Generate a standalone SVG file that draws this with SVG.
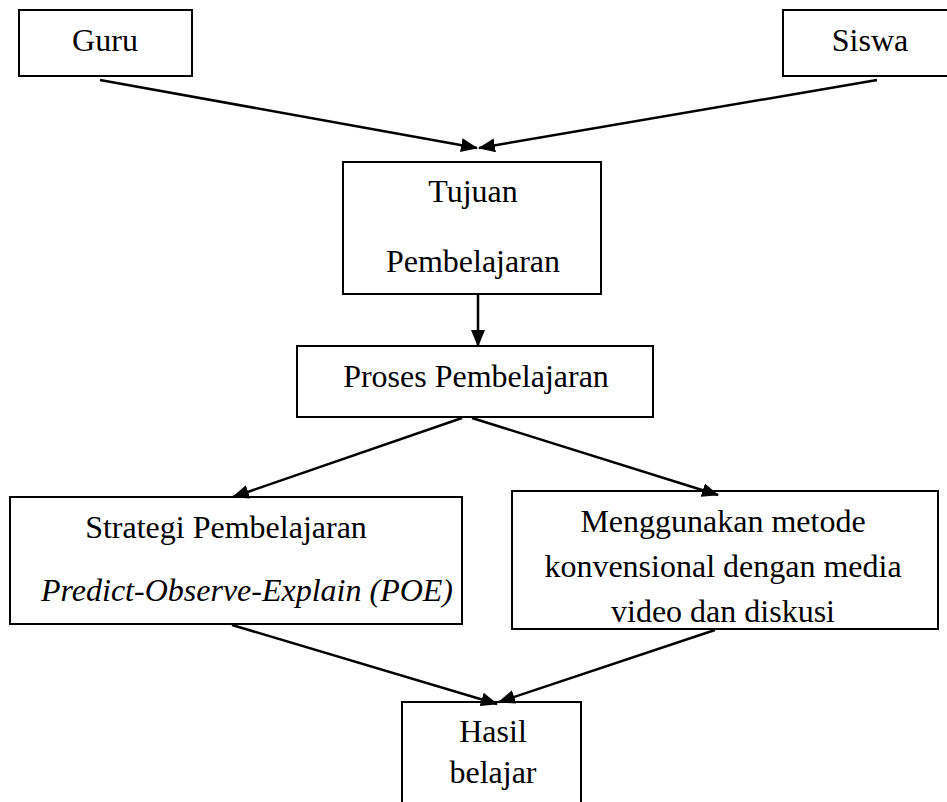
<svg xmlns="http://www.w3.org/2000/svg" width="947" height="802" viewBox="0 0 947 802">
<style>
.box{fill:#fff;stroke:#000;stroke-width:2}
.t{font-family:"Liberation Serif","Times New Roman",serif;font-size:32px;fill:#000;text-anchor:middle}
.it{font-style:italic}
.c{stroke:#000;stroke-width:2.5;fill:none}
</style>
<defs>
<marker id="ah" markerUnits="userSpaceOnUse" viewBox="0 0 17 14" markerWidth="17" markerHeight="14" refX="16" refY="7" orient="auto">
<path d="M0,0 L17,7 L0,14 z" fill="#000"/>
</marker>
</defs>
<rect width="947" height="802" fill="#fff"/>
<g id="guru"><rect class="box" x="19" y="10" width="173" height="66"/><text class="t" x="105" y="51">Guru</text></g>
<g id="siswa"><rect class="box" x="783" y="10" width="180" height="66"/><text class="t" x="870" y="51">Siswa</text></g>
<g id="tujuan"><rect class="box" x="343" y="162" width="258" height="132"/><text class="t" x="473" y="202">Tujuan</text><text class="t" x="473" y="272">Pembelajaran</text></g>
<g id="proses"><rect class="box" x="297" y="346" width="356" height="71"/><text class="t" x="476" y="387">Proses Pembelajaran</text></g>
<g id="strategi"><rect class="box" x="10" y="497" width="452" height="127"/><text class="t" x="226" y="538">Strategi Pembelajaran</text><text class="t it" x="247" y="601">Predict-Observe-Explain (POE)</text></g>
<g id="konvensional"><rect class="box" x="512" y="491" width="426" height="138"/><text class="t" x="723" y="532">Menggunakan metode</text><text class="t" x="723" y="577">konvensional dengan media</text><text class="t" x="723" y="622">video dan diskusi</text></g>
<g id="hasil"><rect class="box" x="402" y="702" width="179" height="120"/><text class="t" x="493" y="742">Hasil</text><text class="t" x="493" y="783">belajar</text></g>
<g id="connectors">
<line class="c" x1="100" y1="80" x2="477" y2="148" marker-end="url(#ah)"/>
<line class="c" x1="877" y1="80" x2="479" y2="148" marker-end="url(#ah)"/>
<line class="c" x1="478" y1="295" x2="478" y2="346" marker-end="url(#ah)"/>
<line class="c" x1="462" y1="418" x2="233" y2="497" marker-end="url(#ah)"/>
<line class="c" x1="472" y1="418" x2="718" y2="495" marker-end="url(#ah)"/>
<line class="c" x1="232" y1="625" x2="497" y2="704" marker-end="url(#ah)"/>
<line class="c" x1="715" y1="630" x2="499" y2="702" marker-end="url(#ah)"/>
</g>
</svg>
